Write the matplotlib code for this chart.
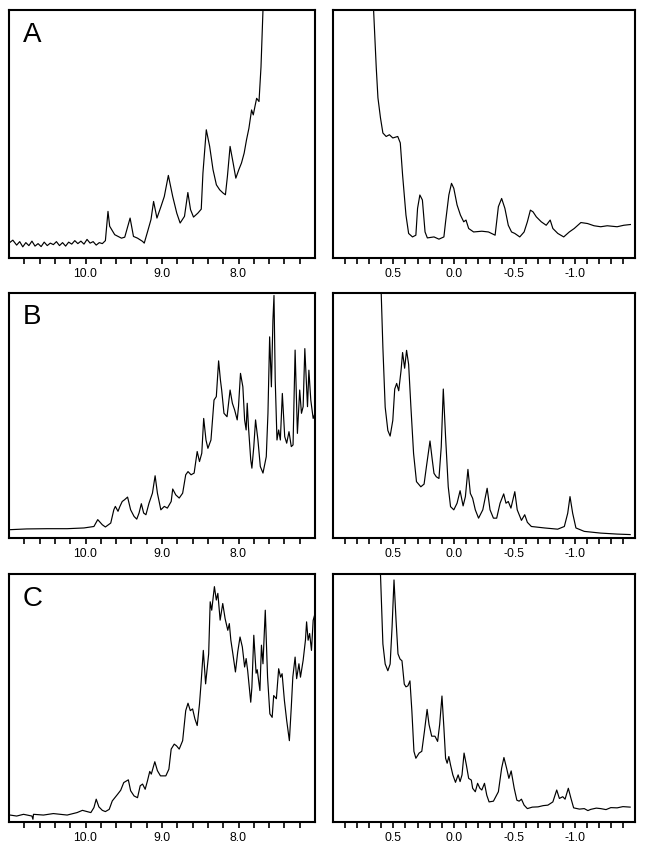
import matplotlib
matplotlib.use("Agg")
import matplotlib.pyplot as plt
from matplotlib.ticker import FixedLocator, FixedFormatter

plt.rcParams['font.family'] = ['Liberation Sans', 'DejaVu Sans']

# ---------------- data: (ppm, intensity as fraction of panel height) ----------------
# Panel A, downfield region
a_left = [(11.0, 0.06), (10.95, 0.072), (10.9, 0.052), (10.86, 0.066), (10.82, 0.045), (10.78, 0.062),
          (10.74, 0.05), (10.70, 0.068), (10.66, 0.048), (10.62, 0.058), (10.58, 0.046), (10.54, 0.064),
          (10.50, 0.05), (10.46, 0.06), (10.42, 0.054), (10.38, 0.066), (10.34, 0.05), (10.30, 0.062),
          (10.26, 0.048), (10.22, 0.064), (10.18, 0.056), (10.14, 0.07), (10.10, 0.058), (10.06, 0.068),
          (10.02, 0.056), (9.98, 0.075), (9.94, 0.06), (9.90, 0.066), (9.86, 0.052), (9.82, 0.062),
          (9.78, 0.058), (9.74, 0.07), (9.706, 0.188), (9.684, 0.128), (9.618, 0.094), (9.53, 0.08),
          (9.487, 0.084), (9.417, 0.161), (9.373, 0.087), (9.32, 0.08), (9.254, 0.067), (9.232, 0.06),
          (9.188, 0.107), (9.144, 0.155), (9.11, 0.228), (9.066, 0.161), (9.013, 0.208), (8.97, 0.248),
          (8.917, 0.333), (8.86, 0.248), (8.807, 0.181), (8.763, 0.141), (8.706, 0.168), (8.662, 0.264),
          (8.627, 0.195), (8.588, 0.165), (8.531, 0.181), (8.487, 0.197), (8.465, 0.342), (8.421, 0.517),
          (8.377, 0.45), (8.333, 0.356), (8.289, 0.295), (8.246, 0.275), (8.202, 0.262), (8.171, 0.255),
          (8.145, 0.329), (8.11, 0.45), (8.07, 0.383), (8.035, 0.322), (7.996, 0.356), (7.961, 0.383),
          (7.926, 0.423), (7.895, 0.477), (7.864, 0.523), (7.829, 0.597), (7.807, 0.577), (7.785, 0.611),
          (7.763, 0.644), (7.732, 0.631), (7.706, 0.77), (7.68, 1.0), (7.66, 1.5)]

# Panel A, upfield region
a_right = [(0.668, 1.5), (0.664, 1.0), (0.642, 0.768), (0.628, 0.646), (0.607, 0.565), (0.587, 0.504),
           (0.56, 0.49), (0.533, 0.497), (0.505, 0.484), (0.464, 0.49), (0.443, 0.464), (0.424, 0.335),
           (0.396, 0.173), (0.374, 0.099), (0.342, 0.085), (0.314, 0.092), (0.30, 0.2), (0.281, 0.254),
           (0.26, 0.234), (0.238, 0.105), (0.219, 0.081), (0.164, 0.085), (0.123, 0.076), (0.082, 0.085),
           (0.068, 0.146), (0.041, 0.254), (0.019, 0.301), (0.0, 0.281), (-0.027, 0.214), (-0.055, 0.173),
           (-0.082, 0.146), (-0.101, 0.153), (-0.123, 0.119), (-0.164, 0.105), (-0.232, 0.108),
           (-0.287, 0.105), (-0.342, 0.092), (-0.369, 0.207), (-0.396, 0.24), (-0.423, 0.2),
           (-0.451, 0.132), (-0.478, 0.105), (-0.505, 0.099), (-0.546, 0.085), (-0.582, 0.105),
           (-0.609, 0.146), (-0.634, 0.193), (-0.656, 0.186), (-0.683, 0.166), (-0.724, 0.146),
           (-0.765, 0.132), (-0.798, 0.153), (-0.82, 0.119), (-0.861, 0.099), (-0.91, 0.085),
           (-0.956, 0.105), (-0.997, 0.119), (-1.052, 0.143), (-1.107, 0.139), (-1.161, 0.13),
           (-1.216, 0.126), (-1.27, 0.13), (-1.352, 0.126), (-1.407, 0.132), (-1.462, 0.135)]

# Panel B, downfield region
b_left = [(10.985, 0.034), (10.77, 0.037), (10.50, 0.038), (10.24, 0.038), (10.02, 0.041), (9.89, 0.047),
          (9.84, 0.075), (9.78, 0.054), (9.74, 0.045), (9.67, 0.061), (9.63, 0.115), (9.61, 0.129),
          (9.575, 0.109), (9.55, 0.129), (9.52, 0.149), (9.49, 0.156), (9.45, 0.167), (9.41, 0.115),
          (9.365, 0.088), (9.33, 0.077), (9.30, 0.102), (9.27, 0.14), (9.24, 0.102), (9.21, 0.095),
          (9.17, 0.142), (9.125, 0.183), (9.09, 0.254), (9.06, 0.183), (9.015, 0.115), (8.97, 0.129),
          (8.93, 0.122), (8.88, 0.149), (8.86, 0.2), (8.82, 0.176), (8.775, 0.163), (8.73, 0.183),
          (8.69, 0.258), (8.66, 0.271), (8.62, 0.258), (8.58, 0.265), (8.54, 0.353), (8.51, 0.312),
          (8.48, 0.346), (8.455, 0.488), (8.425, 0.40), (8.40, 0.366), (8.36, 0.40), (8.32, 0.563),
          (8.29, 0.577), (8.26, 0.723), (8.236, 0.644), (8.22, 0.604), (8.19, 0.509), (8.15, 0.495),
          (8.11, 0.604), (8.08, 0.55), (8.05, 0.522), (8.017, 0.482), (8.0, 0.536), (7.974, 0.672),
          (7.943, 0.617), (7.92, 0.482), (7.90, 0.441), (7.886, 0.55), (7.87, 0.455), (7.84, 0.319),
          (7.825, 0.285), (7.80, 0.373), (7.777, 0.482), (7.746, 0.40), (7.715, 0.292), (7.68, 0.265),
          (7.637, 0.332), (7.615, 0.509), (7.593, 0.821), (7.57, 0.617), (7.55, 0.889), (7.536, 0.99),
          (7.52, 0.645), (7.497, 0.40), (7.475, 0.441), (7.453, 0.40), (7.427, 0.59), (7.396, 0.414),
          (7.37, 0.387), (7.34, 0.434), (7.31, 0.373), (7.287, 0.38), (7.26, 0.767), (7.23, 0.427),
          (7.20, 0.604), (7.177, 0.509), (7.155, 0.536), (7.133, 0.773), (7.11, 0.617), (7.098, 0.536),
          (7.08, 0.685), (7.055, 0.563), (7.024, 0.488), (7.0, 0.509)]

# Panel B, upfield region
b_right = [(0.605, 1.5), (0.601, 1.0), (0.587, 0.777), (0.568, 0.534), (0.546, 0.439), (0.527, 0.416),
           (0.505, 0.48), (0.489, 0.608), (0.473, 0.631), (0.456, 0.601), (0.437, 0.682), (0.424, 0.757),
           (0.407, 0.693), (0.391, 0.766), (0.374, 0.709), (0.355, 0.534), (0.333, 0.345), (0.309, 0.23),
           (0.273, 0.209), (0.246, 0.22), (0.227, 0.29), (0.197, 0.396), (0.178, 0.318), (0.164, 0.264),
           (0.145, 0.25), (0.123, 0.243), (0.104, 0.372), (0.087, 0.608), (0.068, 0.412), (0.046, 0.209),
           (0.027, 0.128), (0.0, 0.115), (-0.027, 0.142), (-0.052, 0.193), (-0.077, 0.131),
           (-0.096, 0.169), (-0.117, 0.28), (-0.137, 0.182), (-0.156, 0.162), (-0.178, 0.115),
           (-0.205, 0.081), (-0.24, 0.115), (-0.276, 0.203), (-0.30, 0.115), (-0.328, 0.081),
           (-0.355, 0.081), (-0.383, 0.142), (-0.413, 0.18), (-0.432, 0.142), (-0.451, 0.149),
           (-0.473, 0.122), (-0.505, 0.189), (-0.525, 0.115), (-0.56, 0.072), (-0.587, 0.095),
           (-0.609, 0.064), (-0.642, 0.047), (-0.751, 0.041), (-0.86, 0.036), (-0.915, 0.047),
           (-0.943, 0.101), (-0.962, 0.169), (-0.984, 0.101), (-1.011, 0.041), (-1.08, 0.027),
           (-1.216, 0.02), (-1.352, 0.016), (-1.46, 0.014)]

# Panel C, downfield region
c_left = [(10.985, 0.028), (10.90, 0.024), (10.81, 0.031), (10.70, 0.024), (10.687, 0.011), (10.68, 0.031),
          (10.55, 0.028), (10.42, 0.034), (10.24, 0.028), (10.11, 0.038), (10.04, 0.047), (9.98, 0.042),
          (9.93, 0.038), (9.89, 0.058), (9.86, 0.092), (9.825, 0.061), (9.78, 0.047), (9.74, 0.042),
          (9.69, 0.051), (9.65, 0.085), (9.58, 0.112), (9.54, 0.128), (9.50, 0.159), (9.44, 0.17),
          (9.41, 0.126), (9.365, 0.105), (9.32, 0.098), (9.285, 0.146), (9.254, 0.153), (9.22, 0.132),
          (9.19, 0.166), (9.16, 0.204), (9.14, 0.193), (9.094, 0.243), (9.06, 0.207), (9.02, 0.186),
          (8.95, 0.186), (8.91, 0.213), (8.88, 0.294), (8.84, 0.314), (8.81, 0.307), (8.775, 0.294),
          (8.73, 0.328), (8.69, 0.449), (8.66, 0.479), (8.63, 0.449), (8.60, 0.456), (8.57, 0.416),
          (8.54, 0.389), (8.51, 0.476), (8.49, 0.557), (8.46, 0.692), (8.43, 0.557), (8.39, 0.678),
          (8.37, 0.888), (8.35, 0.854), (8.315, 0.949), (8.29, 0.895), (8.27, 0.922), (8.24, 0.814),
          (8.206, 0.881), (8.175, 0.82), (8.14, 0.773), (8.12, 0.8), (8.10, 0.733), (8.074, 0.679),
          (8.04, 0.605), (8.01, 0.686), (7.98, 0.746), (7.95, 0.706), (7.92, 0.625), (7.90, 0.659),
          (7.88, 0.61), (7.84, 0.483), (7.825, 0.544), (7.80, 0.753), (7.77, 0.6), (7.755, 0.614),
          (7.72, 0.53), (7.70, 0.713), (7.68, 0.638), (7.65, 0.854), (7.62, 0.584), (7.59, 0.436),
          (7.56, 0.422), (7.54, 0.51), (7.505, 0.497), (7.475, 0.618), (7.45, 0.584), (7.43, 0.598),
          (7.40, 0.49), (7.37, 0.409), (7.335, 0.328), (7.31, 0.463), (7.29, 0.584), (7.26, 0.665),
          (7.24, 0.578), (7.21, 0.638), (7.19, 0.584), (7.155, 0.652), (7.125, 0.733), (7.11, 0.807),
          (7.09, 0.733), (7.07, 0.76), (7.046, 0.692), (7.024, 0.813), (7.0, 0.84)]

# Panel C, upfield region
c_right = [(0.61, 1.5), (0.607, 1.0), (0.587, 0.718), (0.568, 0.637), (0.546, 0.61), (0.527, 0.637),
           (0.511, 0.786), (0.495, 0.976), (0.478, 0.813), (0.462, 0.678), (0.445, 0.657), (0.429, 0.65),
           (0.41, 0.556), (0.396, 0.545), (0.38, 0.549), (0.363, 0.569), (0.347, 0.447), (0.33, 0.285),
           (0.314, 0.257), (0.287, 0.278), (0.265, 0.285), (0.243, 0.366), (0.221, 0.454), (0.205, 0.393),
           (0.183, 0.346), (0.156, 0.346), (0.134, 0.325), (0.117, 0.393), (0.098, 0.508), (0.082, 0.38),
           (0.068, 0.257), (0.055, 0.237), (0.041, 0.264), (0.027, 0.23), (0.008, 0.19), (-0.014, 0.16),
           (-0.036, 0.19), (-0.052, 0.163), (-0.068, 0.19), (-0.085, 0.278), (-0.104, 0.23),
           (-0.123, 0.176), (-0.145, 0.169), (-0.156, 0.136), (-0.178, 0.122), (-0.197, 0.156),
           (-0.216, 0.136), (-0.232, 0.129), (-0.254, 0.156), (-0.273, 0.108), (-0.292, 0.081),
           (-0.328, 0.084), (-0.369, 0.122), (-0.396, 0.217), (-0.415, 0.26), (-0.437, 0.217),
           (-0.456, 0.176), (-0.475, 0.206), (-0.50, 0.136), (-0.522, 0.088), (-0.541, 0.084),
           (-0.56, 0.092), (-0.582, 0.068), (-0.609, 0.054), (-0.65, 0.06), (-0.697, 0.061),
           (-0.74, 0.066), (-0.779, 0.068), (-0.82, 0.081), (-0.852, 0.129), (-0.874, 0.095),
           (-0.902, 0.102), (-0.921, 0.092), (-0.948, 0.136), (-0.97, 0.095), (-0.992, 0.057),
           (-1.04, 0.052), (-1.08, 0.054), (-1.11, 0.046), (-1.134, 0.051), (-1.18, 0.056),
           (-1.216, 0.054), (-1.26, 0.05), (-1.30, 0.058), (-1.352, 0.057), (-1.40, 0.062),
           (-1.46, 0.06)]

panel_labels = ["A", "B", "C"]
left_xlim = (11.0, 7.0)
right_xlim = (1.0, -1.5)
left_ticks = [10.8, 10.6, 10.4, 10.2, 10.0, 9.8, 9.6, 9.4, 9.2, 9.0, 8.8, 8.6, 8.4, 8.2, 8.0,
              7.8, 7.6, 7.4, 7.2]
left_labels = ["", "", "", "", "10.0", "", "", "", "", "9.0", "", "", "", "", "8.0",
               "", "", "", ""]
right_ticks = [0.9, 0.8, 0.7, 0.6, 0.5, 0.4, 0.3, 0.2, 0.1, 0.0, -0.1, -0.2, -0.3, -0.4, -0.5,
               -0.6, -0.7, -0.8, -0.9, -1.0, -1.1, -1.2, -1.3, -1.4]
right_labels = ["", "", "", "", "0.5", "", "", "", "", "0.0", "", "", "", "", "-0.5",
                "", "", "", "", "-1.0", "", "", "", ""]

left_data = [a_left, b_left, c_left]
right_data = [a_right, b_right, c_right]

# ---------------- figure ----------------
W, H = 645, 850
fig = plt.figure(figsize=(W / 100, H / 100), dpi=100)

rows = [(10, 258), (293, 538), (574, 822)]  # top, bottom in pixels
left_x = (9, 315)
right_x = (333, 635)


def make_ax(x0, x1, y0, y1):
    return fig.add_axes([x0 / W, 1 - y1 / H, (x1 - x0) / W, (y1 - y0) / H])


for i, (top, bot) in enumerate(rows):
    for side in range(2):
        xs = left_x if side == 0 else right_x
        ax = make_ax(xs[0], xs[1], top, bot)
        pts = (left_data if side == 0 else right_data)[i]
        ppm = [p[0] for p in pts]
        inten = [p[1] for p in pts]
        ax.plot(ppm, inten, color='black', lw=0.85, solid_joinstyle='round')
        ax.set_xlim(*(left_xlim if side == 0 else right_xlim))
        ax.set_ylim(0, 1)
        ticks = left_ticks if side == 0 else right_ticks
        labels = left_labels if side == 0 else right_labels
        ax.xaxis.set_major_locator(FixedLocator(ticks))
        ax.xaxis.set_major_formatter(FixedFormatter(labels))
        ax.set_yticks([])
        ax.tick_params(axis='x', direction='out', length=4.5, width=1.2, pad=3,
                       labelsize=8.8, colors='black')
        for s in ax.spines.values():
            s.set_linewidth(1.5)
            s.set_color('black')
        if side == 0:
            ax.text(0.045, 0.9, panel_labels[i], transform=ax.transAxes, fontsize=20,
                    ha='left', va='center', color='black')

fig.savefig("out.png", dpi=100)
